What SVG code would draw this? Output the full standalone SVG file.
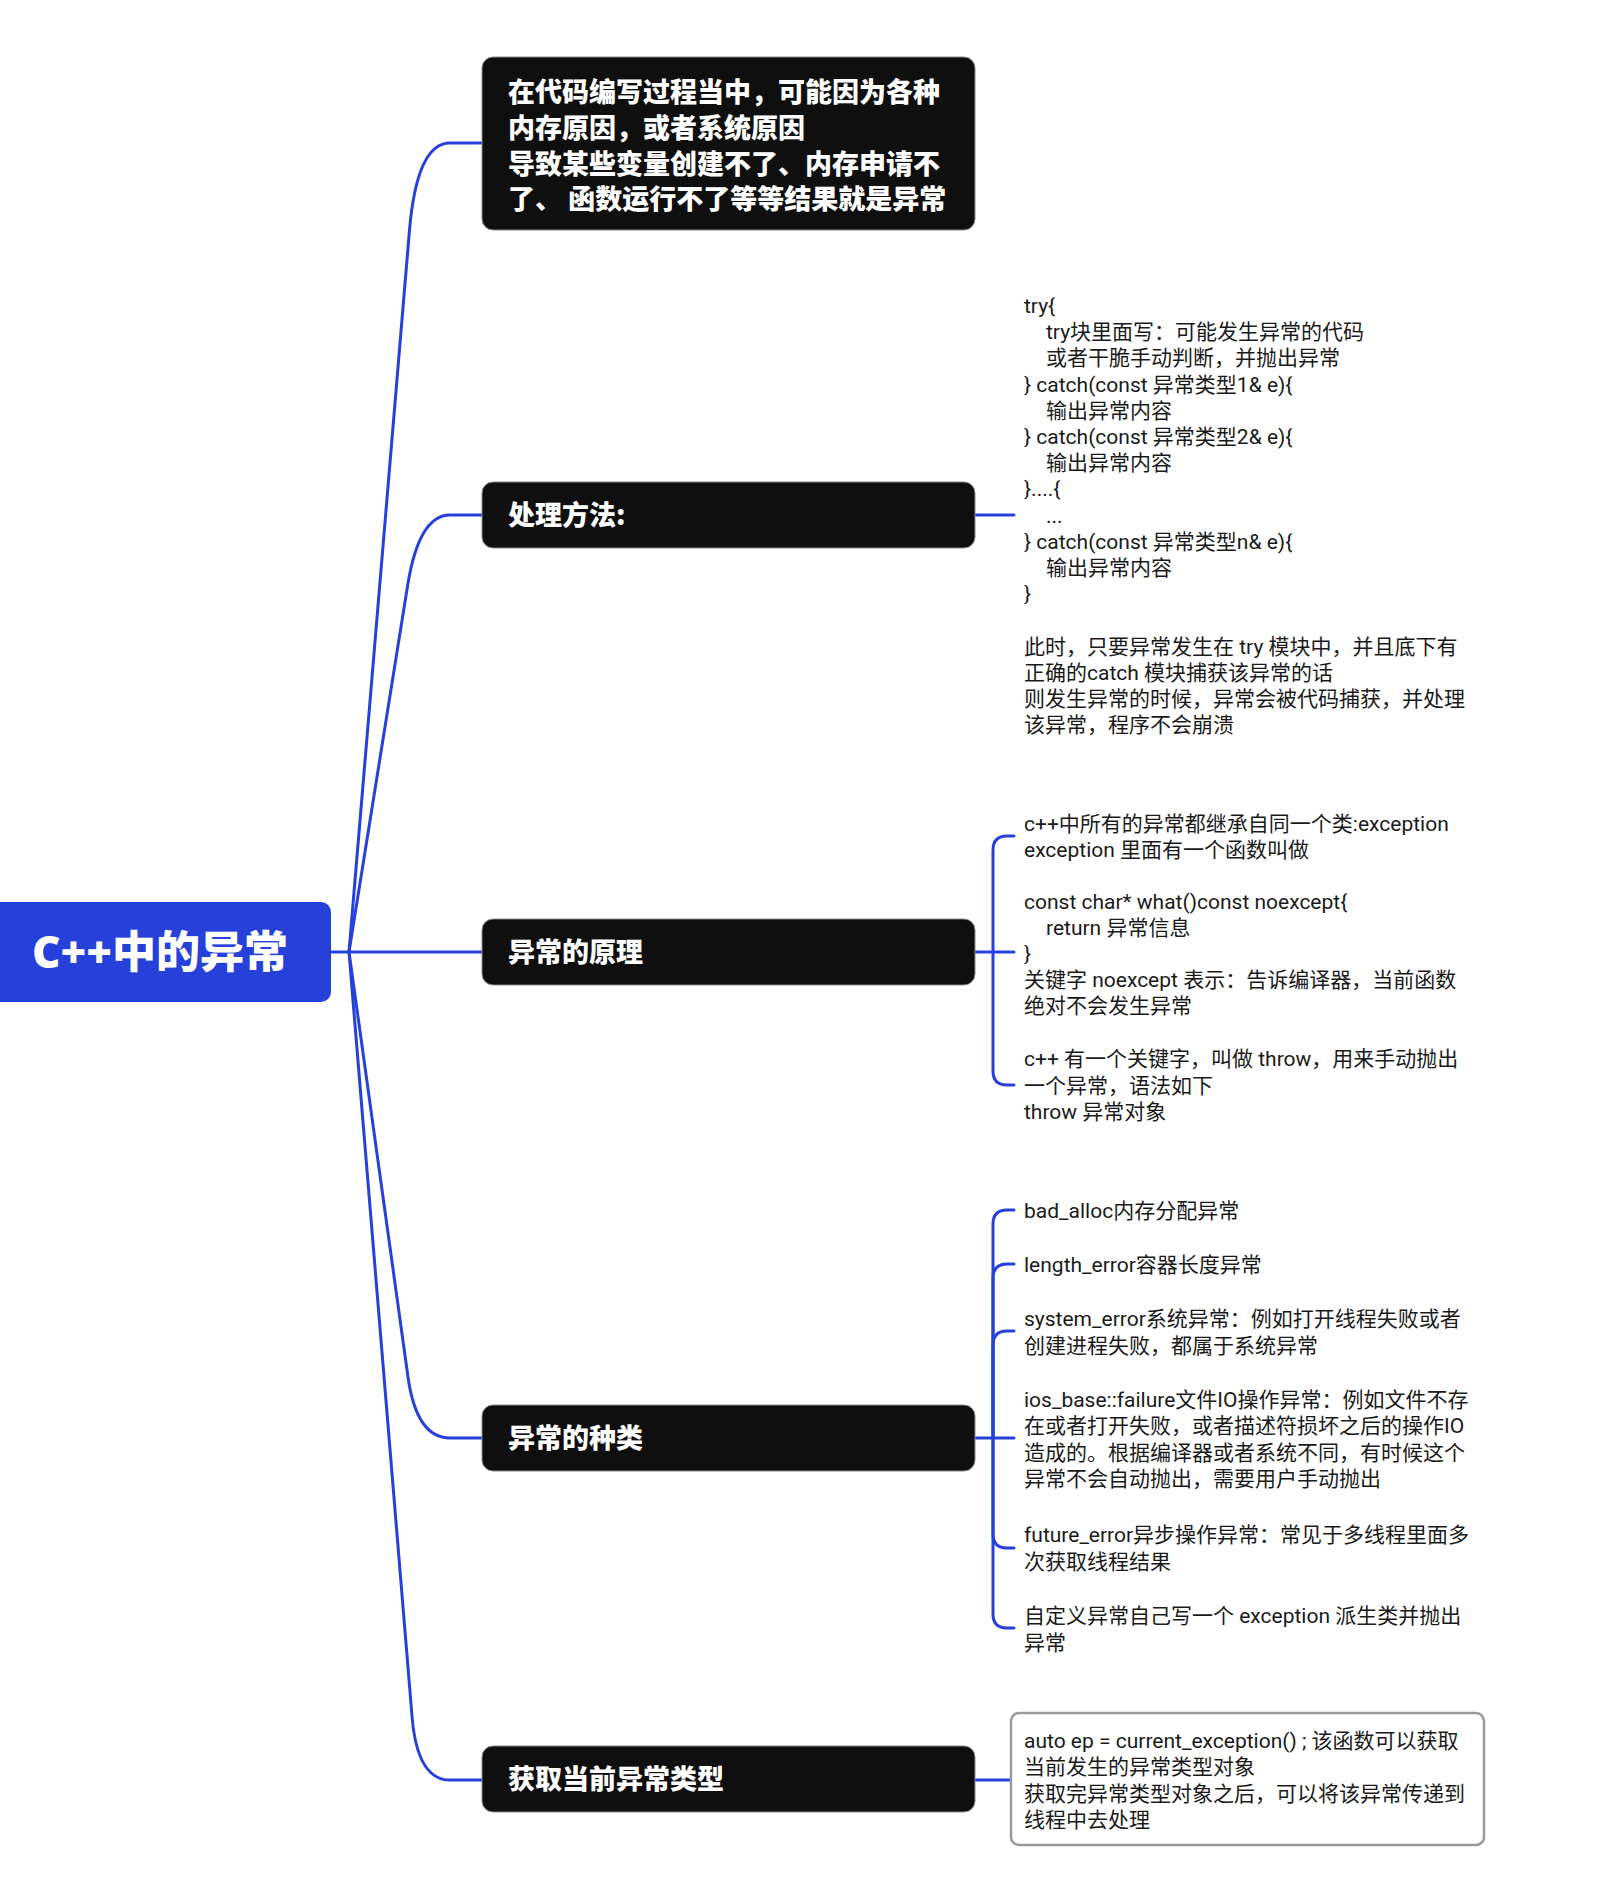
<svg xmlns="http://www.w3.org/2000/svg" width="1617" height="1889" viewBox="0 0 1617 1889">
<style>
.bg{fill:#ffffff}
.root{fill:#2640DA}
.node{fill:#0f0f0f;stroke:#8a8a8a;stroke-width:1}
.rootText{font-family:"Noto Sans","Noto Sans CJK SC",sans-serif;font-weight:900;font-size:44px;fill:#ffffff}
.head{font-family:"Noto Sans CJK SC","Noto Sans",sans-serif;font-weight:900;font-size:27px;fill:#ffffff}
.body{font-family:Roboto,"Noto Sans CJK SC",sans-serif;font-size:21px;fill:#1a1a1a}
.conn{fill:none;stroke:#2640DA;stroke-width:3;stroke-linecap:round;stroke-linejoin:round}
.box{fill:#ffffff;stroke:#9a9a9a;stroke-width:2.5}
</style>
<rect class="bg" x="0" y="0" width="1617" height="1889"/>

<g id="connectors">
  <path class="conn" d="M331,952 H482"/>
  <path class="conn" d="M349,952 L409.5,230 Q417,143 450,143 H482"/>
  <path class="conn" d="M349,952 L407.7,585 Q419,515 450,515 H482"/>
  <path class="conn" d="M349,952 L408,1377 Q416.5,1438 450,1438 H482"/>
  <path class="conn" d="M349,952 L412,1716 Q417,1780 450,1780 H482"/>
  <path class="conn" d="M975,515 H1014"/>
  <path class="conn" d="M975,952 H1014"/>
  <path class="conn" d="M993,952 V850 Q993,836 1007,836 H1014"/>
  <path class="conn" d="M993,952 V1071 Q993,1085 1007,1085 H1014"/>
  <path class="conn" d="M975,1438 H1014"/>
  <path class="conn" d="M993,1438 V1224 Q993,1210 1007,1210 H1014"/>
  <path class="conn" d="M993,1438 V1278 Q993,1264 1007,1264 H1014"/>
  <path class="conn" d="M993,1438 V1345 Q993,1331 1007,1331 H1014"/>
  <path class="conn" d="M993,1438 V1534 Q993,1548 1007,1548 H1014"/>
  <path class="conn" d="M993,1438 V1614 Q993,1628 1007,1628 H1014"/>
  <path class="conn" d="M975,1780 H1011"/>
</g>

<g id="root">
  <rect class="root" x="-12" y="902" width="343" height="100" rx="10" ry="10"/>
  <text class="rootText" x="160" y="968" text-anchor="middle">C++中的异常</text>
</g>

<g id="node-definition">
  <rect class="node" x="482" y="57" width="493" height="173" rx="11" ry="11"/>
  <text class="head" x="508" y="102">在代码编写过程当中，可能因为各种</text>
  <text class="head" x="508" y="138">内存原因，或者系统原因</text>
  <text class="head" x="508" y="174">导致某些变量创建不了、内存申请不</text>
  <text class="head" x="508" y="209">了、 函数运行不了等等结果就是异常</text>
</g>

<g id="node-handling">
  <rect class="node" x="482" y="482" width="493" height="66" rx="11" ry="11"/>
  <text class="head" x="508" y="525">处理方法:</text>
</g>

<g id="text-handling">
  <text class="body">
    <tspan x="1024" y="313">try{</tspan>
    <tspan x="1046" y="339.2">try块里面写：可能发生异常的代码</tspan>
    <tspan x="1046" y="365.4">或者干脆手动判断，并抛出异常</tspan>
    <tspan x="1024" y="391.6">} catch(const 异常类型1&amp; e){</tspan>
    <tspan x="1046" y="417.8">输出异常内容</tspan>
    <tspan x="1024" y="444">} catch(const 异常类型2&amp; e){</tspan>
    <tspan x="1046" y="470.2">输出异常内容</tspan>
    <tspan x="1024" y="496.4">}....{</tspan>
    <tspan x="1046" y="522.6">...</tspan>
    <tspan x="1024" y="548.8">} catch(const 异常类型n&amp; e){</tspan>
    <tspan x="1046" y="575">输出异常内容</tspan>
    <tspan x="1024" y="601.2">}</tspan>
    <tspan x="1024" y="653.6">此时，只要异常发生在 try 模块中，并且底下有</tspan>
    <tspan x="1024" y="679.8">正确的catch 模块捕获该异常的话</tspan>
    <tspan x="1024" y="706">则发生异常的时候，异常会被代码捕获，并处理</tspan>
    <tspan x="1024" y="732.2">该异常，程序不会崩溃</tspan>
  </text>
</g>

<g id="node-principle">
  <rect class="node" x="482" y="919" width="493" height="66" rx="11" ry="11"/>
  <text class="head" x="508" y="962">异常的原理</text>
</g>

<g id="text-principle-1">
  <text class="body">
    <tspan x="1024" y="831">c++中所有的异常都继承自同一个类:exception</tspan>
    <tspan x="1024" y="857.2">exception 里面有一个函数叫做</tspan>
  </text>
</g>
<g id="text-principle-2">
  <text class="body">
    <tspan x="1024" y="908.6">const char* what()const noexcept{</tspan>
    <tspan x="1046" y="934.8">return 异常信息</tspan>
    <tspan x="1024" y="961">}</tspan>
    <tspan x="1024" y="987.2">关键字 noexcept 表示：告诉编译器，当前函数</tspan>
    <tspan x="1024" y="1013.4">绝对不会发生异常</tspan>
  </text>
</g>
<g id="text-principle-3">
  <text class="body">
    <tspan x="1024" y="1066">c++ 有一个关键字，叫做 throw，用来手动抛出</tspan>
    <tspan x="1024" y="1092.5">一个异常，语法如下</tspan>
    <tspan x="1024" y="1119">throw 异常对象</tspan>
  </text>
</g>

<g id="node-kinds">
  <rect class="node" x="482" y="1405" width="493" height="66" rx="11" ry="11"/>
  <text class="head" x="508" y="1448">异常的种类</text>
</g>

<g id="text-kind-1">
  <text class="body" x="1024" y="1218">bad_alloc内存分配异常</text>
</g>
<g id="text-kind-2">
  <text class="body" x="1024" y="1272">length_error容器长度异常</text>
</g>
<g id="text-kind-3">
  <text class="body">
    <tspan x="1024" y="1326">system_error系统异常：例如打开线程失败或者</tspan>
    <tspan x="1024" y="1352.5">创建进程失败，都属于系统异常</tspan>
  </text>
</g>
<g id="text-kind-4">
  <text class="body">
    <tspan x="1024" y="1407">ios_base::failure文件IO操作异常：例如文件不存</tspan>
    <tspan x="1024" y="1433.4">在或者打开失败，或者描述符损坏之后的操作IO</tspan>
    <tspan x="1024" y="1459.8">造成的。根据编译器或者系统不同，有时候这个</tspan>
    <tspan x="1024" y="1486.2">异常不会自动抛出，需要用户手动抛出</tspan>
  </text>
</g>
<g id="text-kind-5">
  <text class="body">
    <tspan x="1024" y="1542">future_error异步操作异常：常见于多线程里面多</tspan>
    <tspan x="1024" y="1568.5">次获取线程结果</tspan>
  </text>
</g>
<g id="text-kind-6">
  <text class="body">
    <tspan x="1024" y="1623">自定义异常自己写一个 exception 派生类并抛出</tspan>
    <tspan x="1024" y="1649.5">异常</tspan>
  </text>
</g>

<g id="node-current">
  <rect class="node" x="482" y="1746" width="493" height="66" rx="11" ry="11"/>
  <text class="head" x="508" y="1789">获取当前异常类型</text>
</g>

<g id="text-current">
  <rect class="box" x="1011" y="1713" width="473" height="132" rx="8" ry="8"/>
  <text class="body">
    <tspan x="1024" y="1748">auto ep = current_exception() ; 该函数可以获取</tspan>
    <tspan x="1024" y="1774.4">当前发生的异常类型对象</tspan>
    <tspan x="1024" y="1800.8">获取完异常类型对象之后，可以将该异常传递到</tspan>
    <tspan x="1024" y="1827.2">线程中去处理</tspan>
  </text>
</g>
</svg>
